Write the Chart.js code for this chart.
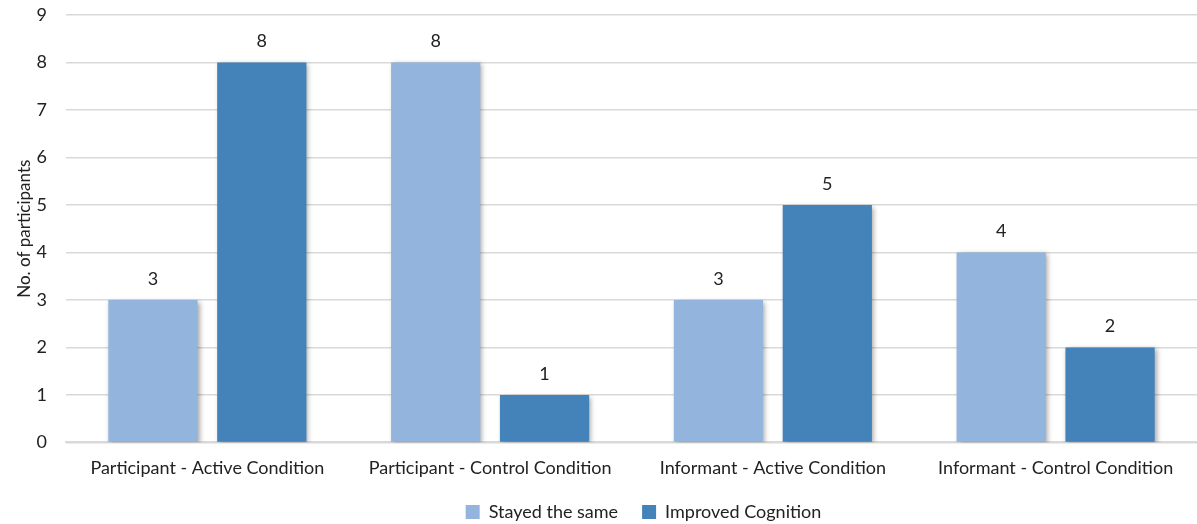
<!DOCTYPE html>
<html>
<head>
<meta charset="utf-8">
<script src="https://cdn.jsdelivr.net/npm/chart.js@4/dist/chart.umd.min.js"></script>
<style>
  html, body { margin: 0; padding: 0; background: #fff; }
  #wrap { width: 1197px; height: 524px; }
</style>
</head>
<body>
<div id="wrap"><canvas id="c" width="1197" height="524"></canvas></div>
<script>
const categories = [
  "Participant - Active Condition",
  "Participant - Control Condition",
  "Informant - Active Condition",
  "Informant - Control Condition"
];
const stayedSame = [3, 8, 3, 4];
const improvedCognition = [8, 1, 5, 2];
const yTicks = [0, 1, 2, 3, 4, 5, 6, 7, 8, 9];

const FONT = "Lato, 'Open Sans', sans-serif";

// Soft drop shadow behind each bar
const barShadow = {
  id: 'barShadow',
  beforeDatasetsDraw(chart) {
    const ctx = chart.ctx;
    ctx.save();
    ctx.shadowColor = 'rgba(0,0,0,0.35)';
    ctx.shadowBlur = 5;
    ctx.shadowOffsetX = 2;
    ctx.shadowOffsetY = 2;
  },
  afterDatasetsDraw(chart) {
    chart.ctx.restore();
  }
};

// Value labels above each bar
const valueLabels = {
  id: 'valueLabels',
  afterDatasetsDraw(chart) {
    const ctx = chart.ctx;
    ctx.save();
    ctx.font = '18px ' + FONT;
    ctx.fillStyle = '#222';
    ctx.textAlign = 'center';
    ctx.textBaseline = 'middle';
    chart.data.datasets.forEach((ds, i) => {
      chart.getDatasetMeta(i).data.forEach((bar, j) => {
        ctx.fillText(String(ds.data[j]), bar.x, bar.y - 21);
      });
    });
    ctx.restore();
  }
};

// Center the legend under the plot area rather than the whole canvas
const legendUnderPlot = {
  id: 'legendUnderPlot',
  afterLayout(chart) {
    const lg = chart.legend;
    if (!lg) return;
    const shift = Math.round((chart.chartArea.left + chart.chartArea.right) / 2 - (lg.left + lg.right) / 2) + 12;
    lg.left += shift;
    lg.right += shift;
    if (typeof lg.adjustHitBoxes === 'function') lg.adjustHitBoxes();
  }
};

new Chart(document.getElementById('c'), {
  type: 'bar',
  data: {
    labels: categories,
    datasets: [
      {
        label: 'Stayed the same',
        data: stayedSame,
        backgroundColor: '#93b4dc',
        categoryPercentage: 0.77,
        barPercentage: 0.82
      },
      {
        label: 'Improved Cognition',
        data: improvedCognition,
        backgroundColor: '#4482ba',
        categoryPercentage: 0.77,
        barPercentage: 0.82
      }
    ]
  },
  options: {
    responsive: false,
    animation: false,
    devicePixelRatio: 1,
    layout: { padding: { left: 12, right: 0, top: 0, bottom: -7 } },
    plugins: {
      legend: {
        position: 'bottom',
        labels: {
          font: { family: FONT, size: 18 },
          color: '#222',
          boxWidth: 14,
          boxHeight: 14,
          padding: 24
        }
      },
      tooltip: { enabled: false }
    },
    scales: {
      x: {
        grid: { display: false },
        border: { display: true, color: '#d9d9d9', width: 2 },
        ticks: {
          font: { family: FONT, size: 18 },
          color: '#222',
          padding: 7,
          maxRotation: 0
        },
        afterFit(axis) {
          axis.height -= 7;
        }
      },
      y: {
        min: 0,
        max: 9,
        afterBuildTicks(axis) {
          axis.ticks = yTicks.map(v => ({ value: v }));
        },
        afterFit(axis) {
          // keep only room for half a label above the top tick
          axis.paddingTop = 15;
          axis.paddingBottom = 0;
          axis.width = 54;
        },
        grid: { color: '#d9d9d9', lineWidth: 1.5, drawTicks: false },
        border: { display: false },
        ticks: {
          font: { family: FONT, size: 18 },
          color: '#222',
          padding: 19
        },
        title: {
          display: true,
          text: 'No. of participants',
          font: { family: FONT, size: 17 },
          color: '#222',
          padding: { top: 2, bottom: 3 }
        }
      }
    }
  },
  plugins: [barShadow, valueLabels, legendUnderPlot]
});
</script>
</body>
</html>
